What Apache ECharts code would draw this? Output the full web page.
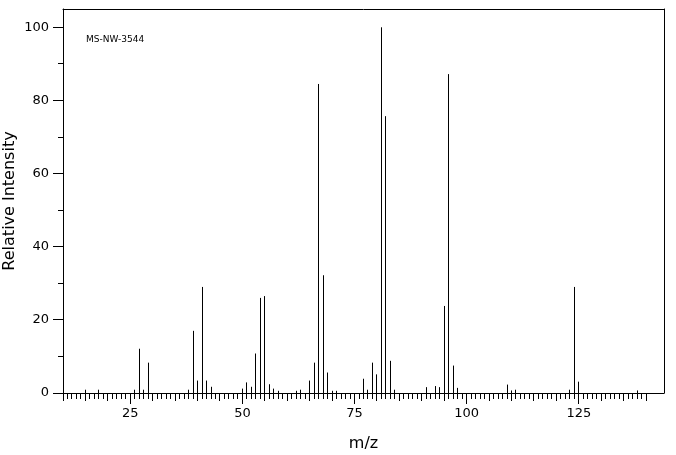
<!DOCTYPE html>
<html>
<head>
<meta charset="utf-8">
<script src="https://cdn.jsdelivr.net/npm/echarts@6/dist/echarts.min.js"></script>
<style>
  html, body { margin: 0; padding: 0; background: #fff; }
  #chart { width: 676px; height: 455px; }
</style>
</head>
<body>
<div id="chart"></div>
<script>
// m/z values of the peaks
const mz = [15, 18, 26, 27, 28, 29, 38, 39, 40, 41, 42, 43, 50, 51, 52, 53, 54, 55, 56, 57,
            58, 62, 63, 65, 66, 67, 68, 69, 70, 71, 77, 78, 79, 80, 81, 82, 83, 84, 91, 93,
            94, 95, 96, 97, 98, 109, 110, 111, 123, 124, 125, 138];
// relative intensities (%)
const intensity = [0.9, 0.9, 0.9, 12.1, 0.9, 8.3, 0.9, 17, 3.4, 29, 3.4, 1.7, 1.2, 2.9, 1.7, 10.8, 26, 26.5, 2.4, 1.2,
                   0.6, 0.6, 0.9, 3.4, 8.3, 84.5, 32.2, 5.6, 0.6, 0.6, 3.9, 0.9, 8.3, 5.1, 100, 75.7, 8.8, 0.9, 1.6, 1.9,
                   1.6, 23.8, 87.2, 7.5, 1.4, 2.3, 0.7, 0.9, 0.9, 29, 3.1, 0.7];
// x tick labels shown
const xTickLabels = [25, 50, 75, 100, 125];
// y tick labels shown
const yTickLabels = [0, 20, 40, 60, 80, 100];
const sampleId = 'MS-NW-3544';

const X_MIN = 10, X_MAX = 144, Y_MIN = 0, Y_MAX = 105;

const xTickValues = [];
for (let v = 10; v <= 140; v++) xTickValues.push(v);
const yTickValues = [];
for (let v = 0; v <= 100; v += 10) yTickValues.push(v);

const peakData = mz.map((m, i) => [m, intensity[i]]);
const FONT = 'DejaVu Sans';

function crisp(v) { return Math.round(v - 0.5) + 0.5; }

const chart = echarts.init(document.getElementById('chart'), null, { renderer: 'canvas' });
chart.setOption({
  animation: false,
  backgroundColor: '#fff',
  grid: { left: 63, right: 12, top: 9, bottom: 62, containLabel: false, outerBoundsMode: 'none' },
  graphic: [{
    type: 'text', left: 86, top: 35,
    style: { text: sampleId, fill: '#000', font: '9px "DejaVu Sans"' }
  }],
  xAxis: [{
    type: 'value', min: X_MIN, max: X_MAX, interval: 5,
    position: 'bottom',
    name: 'm/z', nameLocation: 'middle', nameGap: 43, nameMoveOverlap: false,
    nameTextStyle: { fontFamily: FONT, fontSize: 16, color: '#000' },
    axisLine: { show: true, onZero: false, lineStyle: { color: '#000', width: 1 } },
    axisTick: { show: false },
    splitLine: { show: false },
    axisLabel: {
      margin: 14, fontFamily: FONT, fontSize: 13, color: '#000',
      formatter: v => xTickLabels.indexOf(v) >= 0 ? String(v) : ''
    }
  }, {
    type: 'value', min: X_MIN, max: X_MAX, position: 'top',
    axisLine: { show: true, onZero: false, lineStyle: { color: '#000', width: 1 } },
    axisTick: { show: false }, axisLabel: { show: false }, splitLine: { show: false }
  }],
  yAxis: [{
    type: 'value', min: Y_MIN, max: Y_MAX, interval: 20,
    position: 'left',
    name: 'Relative Intensity', nameLocation: 'middle', nameGap: 45, nameMoveOverlap: false,
    nameTextStyle: { fontFamily: FONT, fontSize: 16, color: '#000' },
    axisLine: { show: true, onZero: false, lineStyle: { color: '#000', width: 1 } },
    axisTick: { show: false },
    splitLine: { show: false },
    axisLabel: {
      margin: 14, fontFamily: FONT, fontSize: 13, color: '#000',
      formatter: v => yTickLabels.indexOf(v) >= 0 ? String(v) : ''
    }
  }, {
    type: 'value', min: Y_MIN, max: Y_MAX, position: 'right',
    axisLine: { show: true, onZero: false, lineStyle: { color: '#000', width: 1 } },
    axisTick: { show: false }, axisLabel: { show: false }, splitLine: { show: false }
  }],
  series: [{
    type: 'custom',
    name: 'peaks',
    clip: false,
    xAxisIndex: 0, yAxisIndex: 0,
    data: peakData,
    encode: { x: 0, y: 1 },
    renderItem: function (params, api) {
      const x = api.value(0), y = api.value(1);
      const p0 = api.coord([x, 0]);
      const p1 = api.coord([x, y]);
      const cx = crisp(p0[0]);
      return { type: 'line', shape: { x1: cx, y1: p0[1], x2: cx, y2: p1[1] },
               style: { stroke: '#000', lineWidth: 1 } };
    }
  }, {
    type: 'custom',
    name: 'xticks',
    clip: false,
    xAxisIndex: 0, yAxisIndex: 0,
    data: xTickValues.map(v => [v, 0]),
    encode: { x: 0, y: 1 },
    silent: true,
    renderItem: function (params, api) {
      const v = api.value(0);
      const p = api.coord([v, 0]);
      const len = v % 25 === 0 ? 11 : (v % 5 === 0 ? 8 : 6);
      const cx = crisp(p[0]);
      return { type: 'line', shape: { x1: cx, y1: p[1], x2: cx, y2: p[1] + len },
               style: { stroke: '#000', lineWidth: 1 } };
    }
  }, {
    type: 'custom',
    name: 'yticks',
    clip: false,
    xAxisIndex: 0, yAxisIndex: 0,
    data: yTickValues.map(v => [X_MIN, v]),
    encode: { x: 0, y: 1 },
    silent: true,
    renderItem: function (params, api) {
      const v = api.value(1);
      const p = api.coord([X_MIN, v]);
      const len = v % 20 === 0 ? 10 : 5;
      const cy = crisp(p[1]);
      return { type: 'line', shape: { x1: p[0], y1: cy, x2: p[0] - len, y2: cy },
               style: { stroke: '#000', lineWidth: 1 } };
    }
  }]
});
</script>
</body>
</html>
